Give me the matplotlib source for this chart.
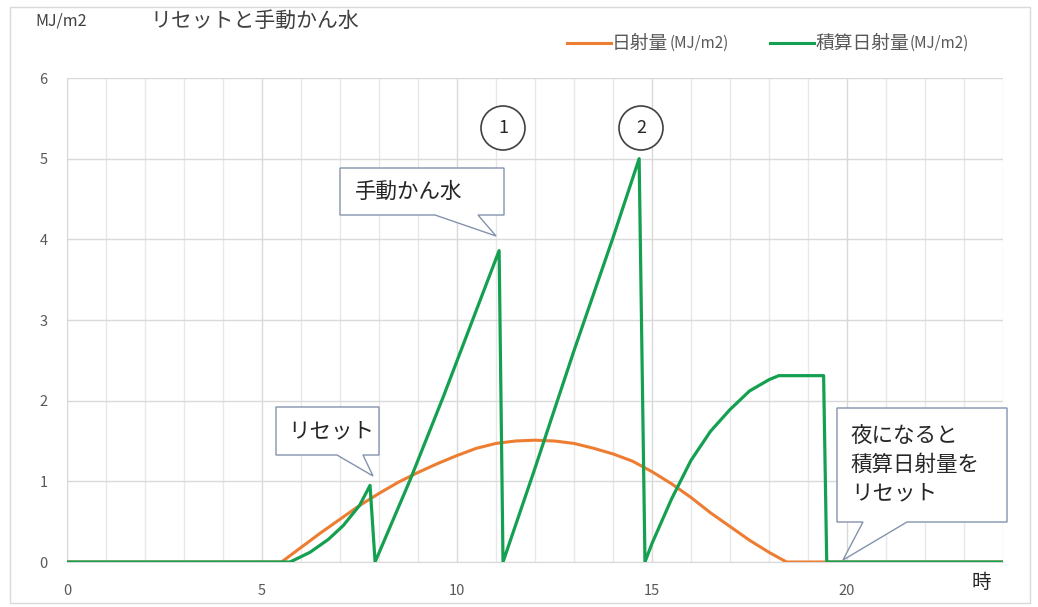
import matplotlib
matplotlib.use('Agg')
import matplotlib.pyplot as plt
from matplotlib.patches import Polygon, Ellipse, Rectangle
from matplotlib.lines import Line2D

plt.rcParams['font.family'] = ['Noto Sans CJK JP', 'DejaVu Sans']

W, H = 1038, 607

# 日射量 (MJ/m2)
solar_t = [0, 5.5, 6, 6.5, 7, 7.5, 8, 8.5, 9, 9.5, 10, 10.5, 11, 11.5, 12,
           12.5, 13, 13.5, 14, 14.5, 15, 15.5, 16, 16.5, 17, 17.5, 18, 18.45, 24]
solar_v = [0, 0, 0.18, 0.36, 0.53, 0.70, 0.85, 0.99, 1.11, 1.22, 1.32, 1.41, 1.47, 1.50, 1.51,
           1.50, 1.47, 1.41, 1.34, 1.25, 1.12, 0.97, 0.80, 0.61, 0.44, 0.27, 0.12, 0, 0]

# 積算日射量 (MJ/m2)
cum_t = [0, 5.72, 6.23, 6.7, 7.08, 7.5, 7.77, 7.9,
         8.8, 9.65, 10.4, 11.08, 11.18,
         11.97, 13.0, 14.0, 14.67, 14.82,
         15.0, 15.5, 16.0, 16.5, 17.0, 17.5, 18.0, 18.25, 19.4, 19.48, 24]
cum_v = [0, 0, 0.12, 0.28, 0.45, 0.70, 0.95, 0,
         1.02, 2.05, 3.0, 3.86, 0,
         1.12, 2.62, 4.02, 5.0, 0,
         0.23, 0.78, 1.26, 1.62, 1.89, 2.12, 2.26, 2.31, 2.31, 0, 0]

title = 'リセットと手動かん水'
unit_label = 'MJ/m2'
x_label = '時'
series_names = ['日射量', '積算日射量']
series_unit = '(MJ/m2)'
xticks = [0, 5, 10, 15, 20]
yticks = [0, 1, 2, 3, 4, 5, 6]
marks = ['1', '2']
notes = ['リセット', '手動かん水', '夜になると\n積算日射量を\nリセット']

ORANGE = '#ED7D31'
GREEN = '#14A050'
GRID = '#D9D9D9'
TXT = '#595959'
EDGE = '#8393AC'


def fx(px):
    return px / W


def fy(py):
    return 1 - py / H


fig = plt.figure(figsize=(W / 100, H / 100), dpi=100)
fig.add_artist(Rectangle((fx(10), fy(603)), fx(1030) - fx(10), fy(7) - fy(603),
                         transform=fig.transFigure, fill=False, ec=GRID, lw=1))

ax = fig.add_axes([fx(67), fy(562), fx(1003) - fx(67), fy(78) - fy(562)])
ax.plot(solar_t, solar_v, color=ORANGE, lw=2.2, zorder=3)
ax.plot(cum_t, cum_v, color=GREEN, lw=2.3, zorder=4)

ax.set_xlim(0, 24)
ax.set_ylim(0, 6)
ax.set_xticks(xticks)
ax.set_xticks(range(0, 25), minor=True)
ax.set_yticks(yticks)
ax.grid(axis='y', which='major', color=GRID, lw=1)
ax.grid(axis='x', which='major', color=GRID, lw=1)
ax.grid(axis='x', which='minor', color='#E8E8E8', lw=1)
for s in ['top', 'right']:
    ax.spines[s].set_visible(False)
ax.spines['left'].set_color(GRID)
ax.spines['bottom'].set_color(GRID)
ax.tick_params(which='both', length=0, labelsize=10.5, colors=TXT)
ax.tick_params(axis='x', pad=16)
ax.tick_params(axis='y', pad=14)

fig.text(fx(35), fy(21), unit_label, fontsize=11.5, color='#404040', va='center')
fig.text(fx(150), fy(21), title, fontsize=15, color='#404040', va='center')
fig.text(fx(981), fy(583), x_label, fontsize=14, color='#262626', ha='center', va='center')

# legend
renderer = fig.canvas.get_renderer()
for name, color, x0 in zip(series_names, [ORANGE, GREEN], [567, 770]):
    fig.add_artist(Line2D([fx(x0), fx(x0 + 44)], [fy(43), fy(43)], color=color, lw=2.2,
                          transform=fig.transFigure))
    t = fig.text(fx(x0 + 45), fy(43), name, fontsize=13.5, color=TXT, va='center')
    bb = t.get_window_extent(renderer)
    fig.text(bb.x1 / W + fx(1), fy(43), series_unit, fontsize=11, color=TXT, va='center')

# circled numbers
for m, cx in zip(marks, [503, 641]):
    fig.add_artist(Ellipse((fx(cx), fy(128)), fx(44), 44 / H, transform=fig.transFigure,
                           fc='white', ec='#404040', lw=1.2))
    fig.text(fx(cx), fy(128), m, fontsize=13, color='#262626', ha='center', va='center')


# callouts: box (x0, y0, x1, y1), tail base (b0, b1), tip (tx, ty) in pixels
def callout(box, base, tip, text, tx0):
    x0, y0, x1, y1 = box
    pts = [(x0, y0), (x1, y0), (x1, y1), (base[1], y1), tip, (base[0], y1), (x0, y1)]
    fig.add_artist(Polygon([(fx(a), fy(b)) for a, b in pts], closed=True,
                           transform=fig.transFigure, fc='white', ec=EDGE, lw=1))
    fig.text(fx(tx0), fy((y0 + y1) / 2), text, fontsize=15.5, color='#262626',
             va='center', ha='left', linespacing=1.35)


callout((276, 407, 379, 455), (337, 363), (373, 476), notes[0], 288)
callout((340, 168, 504, 215), (435, 478), (496, 236), notes[1], 355)
callout((837, 408, 1007, 522), (863, 907), (843, 560), notes[2], 851)

fig.savefig('out.png', dpi=100)
